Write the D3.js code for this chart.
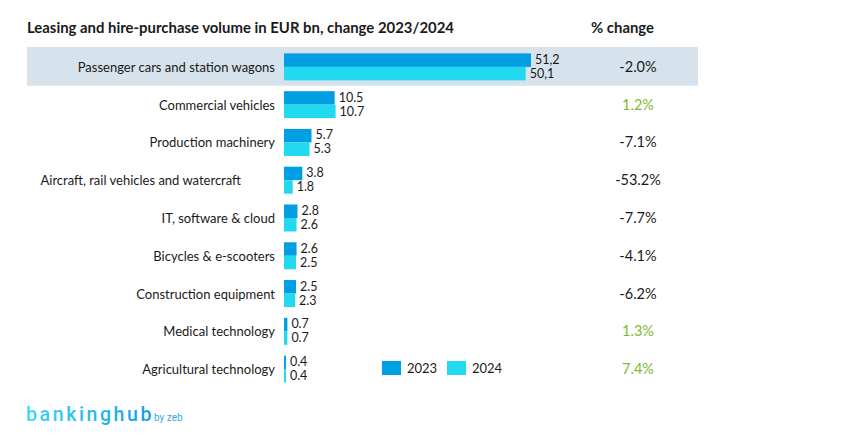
<!DOCTYPE html>
<html>
<head>
<meta charset="utf-8">
<script src="https://cdn.jsdelivr.net/npm/d3@7"></script>
<style>
  body { margin: 0; background: #fff; }
  svg text { font-family: Lato, "Open Sans", sans-serif; fill: #1a1a1a; }
</style>
</head>
<body>
<div id="chart"></div>
<script>
const categories = [
  "Passenger cars and station wagons",
  "Commercial vehicles",
  "Production machinery",
  "Aircraft, rail vehicles and watercraft",
  "IT, software & cloud",
  "Bicycles & e-scooters",
  "Construction equipment",
  "Medical technology",
  "Agricultural technology"
];
const values2023 = [51.2, 10.5, 5.7, 3.8, 2.8, 2.6, 2.5, 0.7, 0.4];
const values2024 = [50.1, 10.7, 5.3, 1.8, 2.6, 2.5, 2.3, 0.7, 0.4];
const labels2023 = ["51,2", "10.5", "5.7", "3.8", "2.8", "2.6", "2.5", "0.7", "0.4"];
const labels2024 = ["50,1", "10.7", "5.3", "1.8", "2.6", "2.5", "2.3", "0.7", "0.4"];
const pctChange = [-2.0, 1.2, -7.1, -53.2, -7.7, -4.1, -6.2, 1.3, 7.4];
const seriesNames = ["2023", "2024"];

const colors = { "2023": "#009fe3", "2024": "#22d9ef" };

const W = 862, H = 438;
const svg = d3.select("#chart").append("svg").attr("width", W).attr("height", H);

const x0 = 284;
const x = d3.scaleLinear().domain([0, 51.2]).range([x0, 531]);
const y = d3.scaleBand().domain(categories).range([48, 388]).paddingInner(0).paddingOuter(0);
const barH = 13.5;

// highlight band for first row
svg.append("rect")
  .attr("x", 27).attr("width", 671)
  .attr("y", y(categories[0]) - 1).attr("height", y.bandwidth() + 1)
  .attr("fill", "#d6e3ec");

// title
svg.append("text").attr("x", 27).attr("y", 33)
  .style("font-size", "14.9px").style("font-weight", "bold")
  .text("Leasing and hire-purchase volume in EUR bn, change 2023/2024");
svg.append("text").attr("x", 591).attr("y", 33)
  .style("font-size", "14.9px").style("font-weight", "bold")
  .text("% change");

const rows = svg.selectAll(".row").data(categories).join("g")
  .attr("transform", d => `translate(0,${y(d) + y.bandwidth() / 2})`);

// the long label sits a bit further left in the original
rows.append("text").attr("x", d => d.startsWith("Aircraft") ? 241 : 275).attr("y", 5)
  .attr("text-anchor", "end").style("font-size", "13px")
  .text(d => d);

rows.append("rect").attr("x", x0).attr("y", -barH)
  .attr("width", (d, i) => x(values2023[i]) - x0).attr("height", barH)
  .attr("fill", colors["2023"]);
rows.append("rect").attr("x", x0).attr("y", 0)
  .attr("width", (d, i) => x(values2024[i]) - x0).attr("height", barH)
  .attr("fill", colors["2024"]);

rows.append("text").attr("x", (d, i) => x(values2023[i]) + 4).attr("y", -3)
  .style("font-size", "12.5px").text((d, i) => labels2023[i]);
rows.append("text").attr("x", (d, i) => x(values2024[i]) + 4).attr("y", 11)
  .style("font-size", "12.5px").text((d, i) => labels2024[i]);

rows.append("text").attr("x", 638).attr("y", 5)
  .attr("text-anchor", "middle").style("font-size", "14.5px")
  .style("fill", (d, i) => pctChange[i] > 0 ? "#7cbb2d" : "#1a1a1a")
  .text((d, i) => pctChange[i].toFixed(1) + "%");

// legend
const legend = svg.selectAll(".leg").data(seriesNames).join("g")
  .attr("transform", (d, i) => `translate(${382 + i * 65},361)`);
legend.append("rect").attr("width", 19).attr("height", 14).attr("fill", d => colors[d]);
legend.append("text").attr("x", 25).attr("y", 12).style("font-size", "13px").text(d => d);

// logo
const defs = svg.append("defs");
const grad = defs.append("linearGradient").attr("id", "logoGrad");
grad.append("stop").attr("offset", "0%").attr("stop-color", "#3cd8f3");
grad.append("stop").attr("offset", "100%").attr("stop-color", "#0a8fe0");
const logo = svg.append("text").attr("x", 26).attr("y", 421);
logo.append("tspan").style("font-family", "Roboto, sans-serif").style("font-size", "19.5px").style("font-weight", "500")
  .style("letter-spacing", "2.6px").style("fill", "url(#logoGrad)").text("bankinghub");
logo.append("tspan").attr("dx", 0).style("font-family", "Roboto, sans-serif").style("font-size", "10px").style("fill", "#3aa7e6").text("by zeb");
</script>
</body>
</html>
